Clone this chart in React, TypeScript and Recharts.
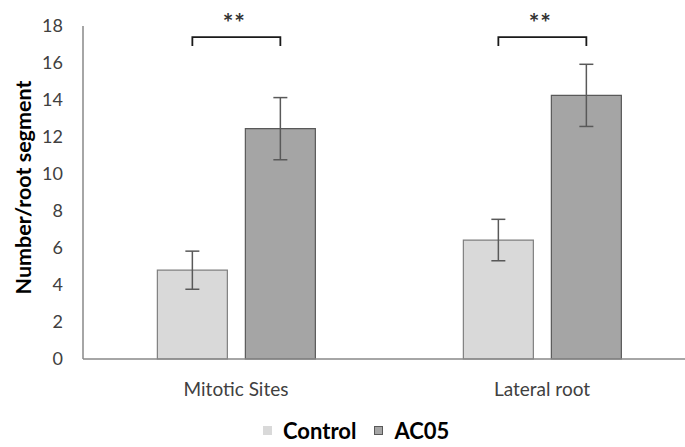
import {Bar, BarChart, ErrorBar, Legend, XAxis, YAxis} from 'recharts';

const categories = ['Mitotic Sites', 'Lateral root'];
const controlValues = [4.8, 6.43];
const controlErrors = [1.03, 1.12];
const ac05Values = [12.45, 14.25];
const ac05Errors = [1.68, 1.68];
const yTicks = [0, 2, 4, 6, 8, 10, 12, 14, 16, 18];
const bracketLevel = 17.4;
const significance = '**';

const data = categories.map((name, i) => ({
  name,
  control: controlValues[i],
  controlErr: controlErrors[i],
  ac05: ac05Values[i],
  ac05Err: ac05Errors[i],
}));

const FONT = 'Lato, "Open Sans", sans-serif';
const BAR_GAP = 18;

// bracket drawn from the control bar centre to the AC05 bar centre
const renderBracket = (props: any) => {
  const {x, y, width, height, value} = props;
  const base = y + height;
  const unit = height / value;
  const top = base - bracketLevel * unit;
  const left = x - BAR_GAP - width / 2;
  const right = x + width / 2;
  return (
    <g>
      <path
        d={`M${left},${top + 9} V${top} H${right} V${top + 9}`}
        fill="none"
        stroke="#1a1a1a"
        strokeWidth={1.8}
      />
      <text
        x={(left + right) / 2 - 2}
        y={top - 15}
        textAnchor="middle"
        dominantBaseline="central"
        fontFamily={FONT}
        fontSize={25}
        fontWeight="bold"
        fill="#333"
        letterSpacing={1}
      >
        {significance}
      </text>
    </g>
  );
};

const YLabel = (props: any) => {
  const {viewBox} = props;
  const cx = viewBox.x + 23;
  const cy = viewBox.y + viewBox.height / 2 - 5;
  return (
    <text
      x={cx}
      y={cy}
      transform={`rotate(-90 ${cx} ${cy})`}
      textAnchor="middle"
      dominantBaseline="central"
      fontFamily={FONT}
      fontSize={21.5}
      fontWeight="bold"
      fill="#000"
    >
      Number/root segment
    </text>
  );
};

const legendItems = [
  {label: 'Control', fill: '#d9d9d9', stroke: '#d9d9d9'},
  {label: 'AC05', fill: '#a5a5a5', stroke: '#595959'},
];

const renderLegend = () => (
  <div
    style={{
      height: 56,
      display: 'flex',
      justifyContent: 'flex-start',
      alignItems: 'flex-end',
      gap: 18,
      fontFamily: FONT,
      paddingLeft: 263,
      paddingBottom: 3,
      boxSizing: 'border-box',
    }}
  >
    {legendItems.map(item => (
      <div key={item.label} style={{display: 'flex', alignItems: 'center', height: 24}}>
        <span
          style={{
            width: 7,
            height: 7,
            background: item.fill,
            border: `1px solid ${item.stroke}`,
            marginRight: 11,
            display: 'inline-block',
          }}
        />
        <span style={{fontWeight: 'bold', fontSize: 22, color: '#000'}}>{item.label}</span>
      </div>
    ))}
  </div>
);

export default function App() {
  return (
    <div
      style={{
        position: 'absolute',
        top: 0,
        left: 0,
        width: 685,
        height: 447,
        overflow: 'hidden',
        background: '#fff',
      }}
    >
      <BarChart
        width={700}
        height={447}
        data={data}
        margin={{top: 26, right: 5, left: 0, bottom: 2}}
        barCategoryGap="24.3%"
        barGap={BAR_GAP}
      >
        <XAxis
          dataKey="name"
          height={30}
          tickLine={false}
          axisLine={{stroke: '#898989', strokeWidth: 1.5}}
          tickMargin={18}
          tick={{fill: '#404040', fontSize: 19, fontFamily: FONT}}
        />
        <YAxis
          width={83}
          domain={[0, 18]}
          ticks={yTicks}
          interval={0}
          tickLine={false}
          axisLine={{stroke: '#898989', strokeWidth: 1.5}}
          tickMargin={14}
          tick={{fill: '#404040', fontSize: 18, fontFamily: FONT}}
          label={<YLabel />}
        />
        <Legend
          verticalAlign="bottom"
          content={renderLegend}
          wrapperStyle={{left: 0, width: 700}}
        />
        <Bar
          dataKey="control"
          name="Control"
          fill="#d9d9d9"
          stroke="#7f7f7f"
          strokeWidth={1.2}
          isAnimationActive={false}
        >
          <ErrorBar dataKey="controlErr" width={7} stroke="#595959" strokeWidth={1.5} />
        </Bar>
        <Bar
          dataKey="ac05"
          name="AC05"
          fill="#a5a5a5"
          stroke="#595959"
          strokeWidth={1.2}
          isAnimationActive={false}
          label={renderBracket}
        >
          <ErrorBar dataKey="ac05Err" width={7} stroke="#595959" strokeWidth={1.5} />
        </Bar>
      </BarChart>
    </div>
  );
}
